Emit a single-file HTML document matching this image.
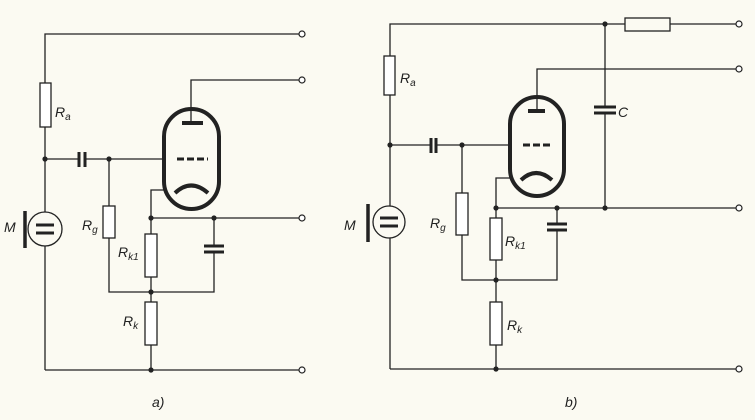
<!DOCTYPE html>
<html><head><style>
html,body{margin:0;padding:0;background:#fbfaf2;}
svg{display:block}
text{font-family:"Liberation Sans",sans-serif;font-style:italic;fill:#222;}
</style></head><body>
<svg width="755" height="420" viewBox="0 0 755 420" xmlns="http://www.w3.org/2000/svg">
<g stroke="#222" stroke-width="1.3" fill="none">
<!-- ===== a) ===== -->
<polyline points="300,34 45,34 45,83"/>
<rect x="40" y="83" width="11" height="44" fill="#fff"/>
<line x1="45" y1="127" x2="45" y2="212"/>
<line x1="45" y1="246" x2="45" y2="370"/>
<line x1="45" y1="370" x2="300" y2="370"/>
<circle cx="45" cy="229" r="17"/>
<line x1="25" y1="211" x2="25" y2="248" stroke-width="3.5"/>
<line x1="36" y1="225" x2="54" y2="225" stroke-width="3"/>
<line x1="36" y1="233" x2="54" y2="233" stroke-width="3"/>
<line x1="45" y1="159" x2="78" y2="159"/>
<line x1="79" y1="152" x2="79" y2="167" stroke-width="3"/>
<line x1="85" y1="152" x2="85" y2="167" stroke-width="3"/>
<line x1="85" y1="159" x2="163" y2="159"/>
<line x1="109" y1="159" x2="109" y2="206"/>
<rect x="103" y="206" width="12" height="32" fill="#fff"/>
<polyline points="109,238 109,292 214,292 214,252"/>
<line x1="214" y1="246" x2="214" y2="218"/>
<line x1="204" y1="246" x2="224" y2="246" stroke-width="3"/>
<line x1="204" y1="252" x2="224" y2="252" stroke-width="3"/>
<rect x="164" y="109" width="55" height="100" rx="27.5" stroke-width="4"/>
<line x1="182" y1="123" x2="203" y2="123" stroke-width="4"/>
<polyline points="191,121 191,80 300,80"/>
<line x1="177" y1="159" x2="208" y2="159" stroke-width="3" stroke-dasharray="7,3"/>
<path d="M175,193 Q191,178 208,193" stroke-width="4"/>
<polyline points="164,190 151,190 151,234"/>
<line x1="151" y1="218" x2="300" y2="218"/>
<rect x="145" y="234" width="12" height="43" fill="#fff"/>
<line x1="151" y1="277" x2="151" y2="302"/>
<rect x="145" y="302" width="12" height="43" fill="#fff"/>
<line x1="151" y1="345" x2="151" y2="370"/>
<!-- ===== b) ===== -->
<polyline points="738,24 390,24 390,56"/>
<rect x="384" y="56" width="11" height="39" fill="#fff"/>
<line x1="390" y1="95" x2="390" y2="206"/>
<line x1="390" y1="238" x2="390" y2="369"/>
<line x1="390" y1="369" x2="738" y2="369"/>
<circle cx="389" cy="222" r="16"/>
<line x1="368" y1="204" x2="368" y2="242" stroke-width="3.5"/>
<line x1="380" y1="218" x2="398" y2="218" stroke-width="3"/>
<line x1="380" y1="226" x2="398" y2="226" stroke-width="3"/>
<rect x="625" y="18" width="45" height="13" fill="#fbfaf2"/>
<line x1="390" y1="145" x2="430" y2="145"/>
<line x1="431" y1="138" x2="431" y2="153" stroke-width="3"/>
<line x1="436" y1="138" x2="436" y2="153" stroke-width="3"/>
<line x1="436" y1="145" x2="509" y2="145"/>
<line x1="462" y1="145" x2="462" y2="193"/>
<rect x="456" y="193" width="12" height="42" fill="#fff"/>
<polyline points="462,235 462,280 557,280 557,230"/>
<line x1="557" y1="224" x2="557" y2="208"/>
<line x1="547" y1="224" x2="567" y2="224" stroke-width="3"/>
<line x1="547" y1="230" x2="567" y2="230" stroke-width="3"/>
<rect x="510" y="97" width="54" height="99" rx="27" stroke-width="4"/>
<line x1="528" y1="111" x2="545" y2="111" stroke-width="4"/>
<polyline points="537,109 537,69 738,69"/>
<line x1="523" y1="145" x2="553" y2="145" stroke-width="3" stroke-dasharray="7,3"/>
<path d="M521,180 Q536,166 552,180" stroke-width="4"/>
<polyline points="510,178 496,178 496,218"/>
<line x1="496" y1="208" x2="738" y2="208"/>
<line x1="605" y1="24" x2="605" y2="107"/>
<line x1="605" y1="113" x2="605" y2="208"/>
<line x1="594" y1="107" x2="616" y2="107" stroke-width="3"/>
<line x1="594" y1="113" x2="616" y2="113" stroke-width="3"/>
<rect x="490" y="218" width="12" height="42" fill="#fff"/>
<line x1="496" y1="260" x2="496" y2="302"/>
<rect x="490" y="302" width="12" height="43" fill="#fff"/>
<line x1="496" y1="345" x2="496" y2="369"/>
</g>
<g fill="#222">
<circle cx="45" cy="159" r="2.6"/><circle cx="109" cy="159" r="2.6"/>
<circle cx="151" cy="218" r="2.6"/><circle cx="214" cy="218" r="2.6"/>
<circle cx="151" cy="292" r="2.6"/><circle cx="151" cy="370" r="2.6"/>
<circle cx="390" cy="145" r="2.6"/><circle cx="462" cy="145" r="2.6"/>
<circle cx="605" cy="24" r="2.6"/><circle cx="605" cy="208" r="2.6"/>
<circle cx="496" cy="208" r="2.6"/><circle cx="557" cy="208" r="2.6"/>
<circle cx="496" cy="280" r="2.6"/><circle cx="496" cy="369" r="2.6"/>
</g>
<g fill="#fff" stroke="#222" stroke-width="1.2">
<circle cx="302" cy="34" r="3"/><circle cx="302" cy="80" r="3"/>
<circle cx="302" cy="218" r="3"/><circle cx="302" cy="370" r="3"/>
<circle cx="739" cy="24" r="3"/><circle cx="739" cy="69" r="3"/>
<circle cx="739" cy="208" r="3"/><circle cx="739" cy="369" r="3"/>
</g>
<g font-size="14">
<text x="55" y="117">R<tspan font-size="10" dy="3">a</tspan></text>
<text x="82" y="230">R<tspan font-size="10" dy="3">g</tspan></text>
<text x="118" y="257">R<tspan font-size="10" dy="3">k1</tspan></text>
<text x="123" y="326">R<tspan font-size="10" dy="3">k</tspan></text>
<text x="4" y="232">M</text>
<text x="152" y="407">a)</text>
<text x="400" y="83">R<tspan font-size="10" dy="3">a</tspan></text>
<text x="430" y="228">R<tspan font-size="10" dy="3">g</tspan></text>
<text x="505" y="246">R<tspan font-size="10" dy="3">k1</tspan></text>
<text x="507" y="330">R<tspan font-size="10" dy="3">k</tspan></text>
<text x="344" y="230">M</text>
<text x="618" y="117">C</text>
<text x="565" y="407">b)</text>
</g>
</svg>
</body></html>
